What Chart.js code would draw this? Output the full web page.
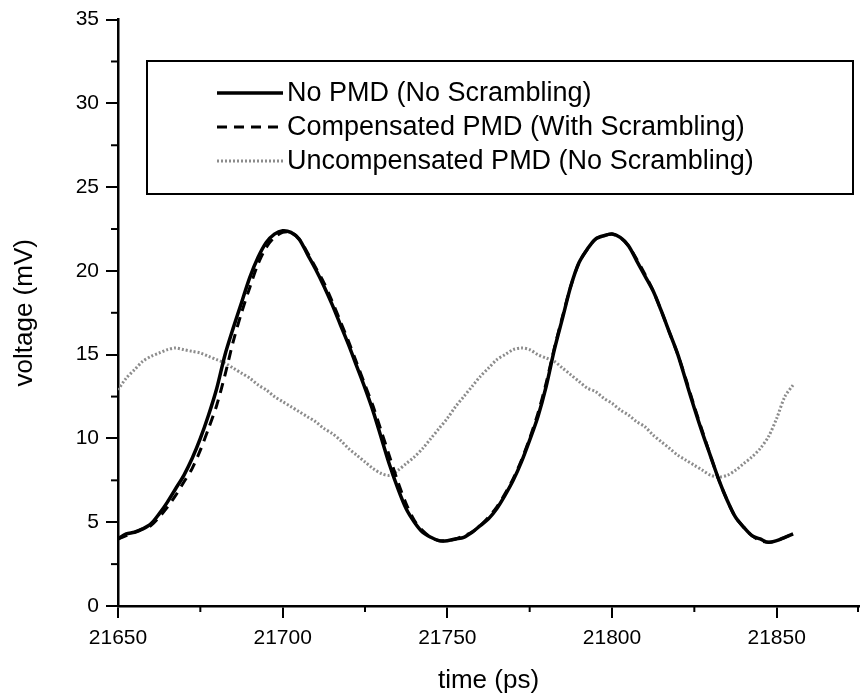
<!DOCTYPE html>
<html>
<head>
<meta charset="utf-8">
<script src="https://cdn.jsdelivr.net/npm/chart.js@4"></script>
<style>
html, body { margin: 0; padding: 0; background: #fff; }
#wrap { width: 861px; height: 696px; }
</style>
</head>
<body>
<div id="wrap"><canvas id="c" width="861" height="696"></canvas></div>
<script>
// ---- data ----
const times = [21650, 21652.5, 21655, 21657.5, 21660, 21662.5, 21665, 21667.5, 21670, 21672.5,
  21675, 21677.5, 21680, 21682.5, 21685, 21687.5, 21690, 21692.5, 21695, 21697.5,
  21700, 21702.5, 21705, 21707.5, 21710, 21712.5, 21715, 21717.5, 21720, 21722.5,
  21725, 21727.5, 21730, 21732.5, 21735, 21737.5, 21740, 21742.5, 21745, 21747.5,
  21750, 21752.5, 21755, 21757.5, 21760, 21762.5, 21765, 21767.5, 21770, 21772.5,
  21775, 21777.5, 21780, 21782.5, 21785, 21787.5, 21790, 21792.5, 21795, 21797.5,
  21800, 21802.5, 21805, 21807.5, 21810, 21812.5, 21815, 21817.5, 21820, 21822.5,
  21825, 21827.5, 21830, 21832.5, 21835, 21837.5, 21840, 21842.5, 21845, 21847.5,
  21850, 21852.5, 21855];

const noPmd = [4.0, 4.3, 4.4, 4.6, 4.9, 5.5, 6.2, 7.0, 7.8, 8.8,
  10.0, 11.4, 13.0, 15.0, 16.6, 18.1, 19.6, 20.8, 21.7, 22.2,
  22.4, 22.3, 21.9, 21.0, 20.1, 19.1, 18.0, 16.8, 15.6, 14.3,
  13.0, 11.6, 10.0, 8.4, 7.0, 5.8, 5.0, 4.4, 4.1, 3.9,
  3.9, 4.0, 4.1, 4.4, 4.8, 5.2, 5.8, 6.6, 7.5, 8.6,
  9.9, 11.3, 13.1, 15.3, 17.2, 19.1, 20.5, 21.3, 21.9, 22.1,
  22.2, 22.0, 21.5, 20.6, 19.7, 18.8, 17.6, 16.3, 15.0, 13.4,
  11.8, 10.3, 8.9, 7.5, 6.3, 5.3, 4.7, 4.2, 4.0, 3.8,
  3.9, 4.1, 4.3];

const compensated = [4.0, 4.2, 4.4, 4.6, 4.8, 5.3, 5.9, 6.6, 7.4, 8.2,
  9.3, 10.6, 12.0, 13.8, 15.8, 17.5, 19.0, 20.4, 21.4, 22.0,
  22.3, 22.3, 21.9, 21.1, 20.2, 19.3, 18.2, 17.0, 15.8, 14.5,
  13.2, 11.9, 10.4, 8.9, 7.4, 6.1, 5.1, 4.5, 4.1, 3.9,
  3.9, 4.0, 4.2, 4.4, 4.8, 5.3, 5.9, 6.7, 7.6, 8.7,
  10.0, 11.5, 13.3, 15.4, 17.3, 19.1, 20.5, 21.3, 21.9, 22.1,
  22.2, 22.0, 21.5, 20.7, 19.8, 18.8, 17.6, 16.3, 15.0, 13.5,
  11.9, 10.4, 8.9, 7.5, 6.3, 5.3, 4.7, 4.2, 3.9, 3.8,
  3.9, 4.1, 4.3];

const uncompensated = [12.9, 13.6, 14.1, 14.6, 14.9, 15.1, 15.3, 15.4, 15.3, 15.2,
  15.1, 14.9, 14.7, 14.5, 14.2, 13.9, 13.6, 13.2, 12.9, 12.5,
  12.2, 11.9, 11.6, 11.3, 11.0, 10.6, 10.3, 9.9, 9.4, 9.0,
  8.6, 8.2, 7.9, 7.8, 8.1, 8.5, 8.9, 9.4, 10.0, 10.6,
  11.2, 11.9, 12.5, 13.1, 13.7, 14.2, 14.7, 15.0, 15.3, 15.4,
  15.3, 15.0, 14.8, 14.6, 14.2, 13.8, 13.4, 13.0, 12.8, 12.4,
  12.1, 11.7, 11.4, 11.0, 10.7, 10.2, 9.8, 9.4, 9.0, 8.7,
  8.4, 8.1, 7.8, 7.7, 7.8, 8.1, 8.5, 8.9, 9.4, 10.1,
  11.2, 12.5, 13.2];

const seriesLabels = ['No PMD (No Scrambling)', 'Compensated PMD (With Scrambling)', 'Uncompensated PMD (No Scrambling)'];
const xMajorTicks = [21650, 21700, 21750, 21800, 21850];
const xMinorTicks = [21675, 21725, 21775, 21825, 21875];
const yMajorTicks = [0, 5, 10, 15, 20, 25, 30, 35];
const yMinorTicks = [2.5, 7.5, 12.5, 17.5, 22.5, 27.5, 32.5];
const xTitle = 'time (ps)';
const yTitle = 'voltage (mV)';

// ---- chart ----
const FONT = "'Liberation Sans', Arial, Helvetica, sans-serif";
Chart.defaults.font.family = FONT;
Chart.defaults.color = '#000';

const toPts = arr => arr.map((v, i) => ({ x: times[i], y: v }));

const minorTicks = {
  id: 'minorTicks',
  afterDraw(chart) {
    const ctx = chart.ctx, xs = chart.scales.x, ys = chart.scales.y, a = chart.chartArea;
    ctx.save();
    ctx.strokeStyle = '#000';
    ctx.lineWidth = 2;
    xMinorTicks.forEach(v => {
      const px = Math.min(xs.getPixelForValue(v), a.right - 1);
      ctx.beginPath(); ctx.moveTo(px, a.bottom); ctx.lineTo(px, a.bottom + 6); ctx.stroke();
    });
    yMinorTicks.forEach(v => {
      const py = ys.getPixelForValue(v);
      ctx.beginPath(); ctx.moveTo(a.left, py); ctx.lineTo(a.left - 7, py); ctx.stroke();
    });
    ctx.restore();
  }
};

const boxLegend = {
  id: 'boxLegend',
  afterDraw(chart) {
    const ctx = chart.ctx;
    const bx = 147, by = 61, bw = 706, bh = 133;
    ctx.save();
    ctx.fillStyle = '#fff';
    ctx.fillRect(bx, by, bw, bh);
    ctx.strokeStyle = '#000';
    ctx.lineWidth = 2;
    ctx.strokeRect(bx, by, bw, bh);
    const rows = [93, 127, 161];
    ctx.font = '27px ' + FONT;
    ctx.textBaseline = 'middle';
    ctx.textAlign = 'left';
    chart.data.datasets.forEach((ds, i) => {
      const y = rows[i];
      ctx.save();
      ctx.strokeStyle = ds.borderColor;
      ctx.lineWidth = ds.borderWidth;
      ctx.setLineDash(ds.borderDash || []);
      ctx.beginPath(); ctx.moveTo(217, y); ctx.lineTo(283, y); ctx.stroke();
      ctx.restore();
      ctx.fillStyle = '#000';
      ctx.fillText(ds.label, 287, y + 1);
    });
    ctx.restore();
  }
};

new Chart(document.getElementById('c'), {
  type: 'line',
  data: {
    datasets: [
      { label: seriesLabels[0], data: toPts(noPmd), borderColor: '#000', borderWidth: 3.5,
        pointRadius: 0, tension: 0.3, fill: false },
      { label: seriesLabels[1], data: toPts(compensated), borderColor: '#000', borderWidth: 3,
        borderDash: [10, 7], pointRadius: 0, tension: 0.3, fill: false },
      { label: seriesLabels[2], data: toPts(uncompensated), borderColor: '#8c8c8c', borderWidth: 3,
        borderDash: [2, 2], pointRadius: 0, tension: 0.3, fill: false }
    ]
  },
  options: {
    responsive: false,
    animation: false,
    devicePixelRatio: 1,
    layout: { padding: { left: 0, top: 12, right: 2, bottom: 0 } },
    plugins: { legend: { display: false }, tooltip: { enabled: false } },
    scales: {
      x: {
        type: 'linear', min: 21650, max: 21875,
        afterBuildTicks: s => { s.ticks = xMajorTicks.map(v => ({ value: v })); },
        afterFit: s => { s.height = 90; },
        border: { color: '#000', width: 2.5 },
        grid: { drawOnChartArea: false, drawTicks: true, tickLength: 12, color: '#000', lineWidth: 2 },
        ticks: { font: { size: 21 }, padding: 8, maxRotation: 0, callback: v => String(v) },
        title: { display: true, text: xTitle, font: { size: 26, lineHeight: 1.2 }, padding: { top: 0, bottom: 0 } }
      },
      y: {
        type: 'linear', min: 0, max: 35,
        afterBuildTicks: s => { s.ticks = yMajorTicks.map(v => ({ value: v })); },
        afterFit: s => { s.width = 118; },
        border: { color: '#000', width: 2.5 },
        grid: { drawOnChartArea: false, drawTicks: true, tickLength: 12, color: '#000', lineWidth: 2 },
        ticks: { font: { size: 21 }, padding: 7 },
        title: { display: true, text: yTitle, font: { size: 26, lineHeight: 1.2 }, padding: { top: 9, bottom: 0 } }
      }
    }
  },
  plugins: [minorTicks, boxLegend]
});
</script>
</body>
</html>
